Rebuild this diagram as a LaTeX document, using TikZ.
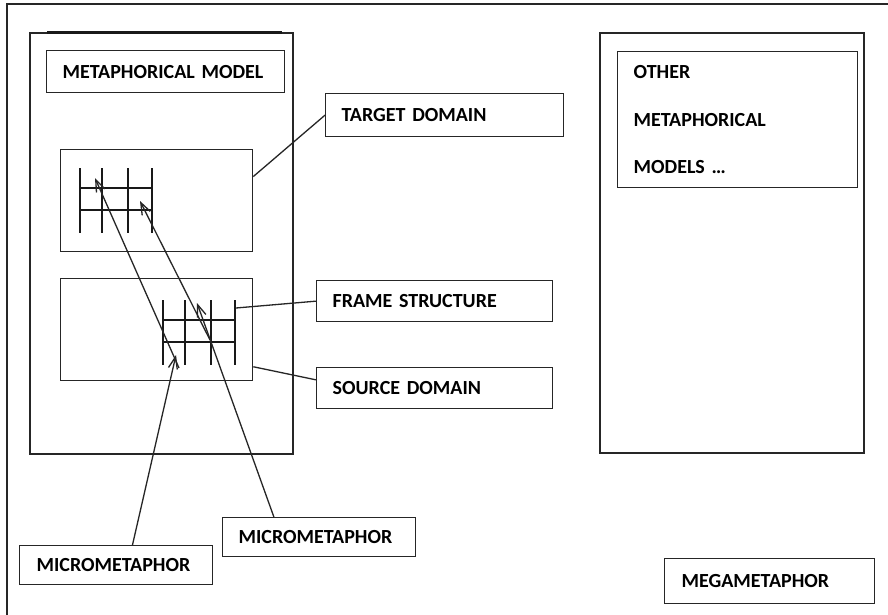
\documentclass[tikz,border=0pt]{standalone}
\usepackage{fontspec}
\setmainfont{Carlito}
\usetikzlibrary{arrows.meta}

\tikzset{
  edge/.style={draw=black!85, line width=1.3pt},
  namebox/.style={edge, rectangle, anchor=north west, inner xsep=16pt, inner ysep=0pt, align=left,
    font=\fontsize{20}{24}\selectfont\bfseries},
  gridline/.style={draw=black!90, line width=2.3pt},
  micro/.style={edge, -{Straight Barb[length=12pt,width=9pt,line width=1.3pt]}}
}

% small frame grid, top left corner given (pixels, y down)
\newcommand{\framegrid}[2]{%
  \foreach \gx in {0,22,48,72}
    \draw[gridline] (#1+\gx,#2) -- (#1+\gx,#2+65);
  \foreach \gy in {20,42}
    \draw[gridline] (#1,#2+\gy) -- (#1+72,#2+\gy);
}

\begin{document}
\begin{tikzpicture}[x=1pt,y=-1pt,line cap=butt,line join=miter]
  \useasboundingbox (0,0) rectangle (888,615);
  \fill[white] (0,0) rectangle (888,615);

  % outer frame (open at right and bottom)
  \draw[edge] (7,615) -- (7,4) -- (888,4);

  % the two large model boxes
  \draw[edge] (30,33) rectangle (293,454);
  \draw[black!90, line width=3pt] (47,33) -- (282,33);
  \draw[edge] (600,33) rectangle (864,453);

  % domains
  \node[edge, rectangle, minimum width=192pt, minimum height=102pt, anchor=north west] (tgt) at (60,149) {};
  \node[edge, rectangle, minimum width=192pt, minimum height=102pt, anchor=north west] (src) at (60,278) {};

  \framegrid{80}{168}
  \framegrid{163}{300}

  % labels
  \node[namebox, minimum width=238pt, minimum height=42pt, text width=206pt] (mmodel) at (46,50) {METAPHORICAL MODEL};
  \node[namebox, minimum width=238pt, minimum height=43pt, text width=206pt, inner xsep=15pt] (tdom) at (325,93) {TARGET DOMAIN};
  \node[namebox, minimum width=236pt, minimum height=41pt, text width=204pt] (fstr) at (316,280) {FRAME STRUCTURE};
  \node[namebox, minimum width=236pt, minimum height=41pt, text width=204pt] (sdom) at (316,367) {SOURCE DOMAIN};
  \node[namebox, minimum width=240pt, minimum height=136pt, text width=208pt,
        font=\fontsize{20}{47.5}\selectfont\bfseries] (other) at (617,51) {OTHER\\METAPHORICAL\\MODELS \dots};
  \node[namebox, minimum width=193pt, minimum height=39pt, text width=159pt, inner xsep=17pt] (microL) at (19,545) {MICROMETAPHOR};
  \node[namebox, minimum width=193pt, minimum height=39pt, text width=161pt] (microR) at (222,517) {MICROMETAPHOR};
  \node[namebox, minimum width=210pt, minimum height=45pt, text width=176pt, inner xsep=17pt] (mega) at (664,558) {MEGAMETAPHOR};

  % points in the grids
  \coordinate (fend) at (236,308);
  \coordinate (t1) at (95,178);
  \coordinate (t2) at (140,201);
  \coordinate (s1) at (176,355);
  \coordinate (s2) at (197,303);
  \coordinate (b1) at (179,368);
  \coordinate (b2) at (210,340);

  % connectors to the labels
  \draw[edge] (tgt.14.6) -- (tdom.west);
  \draw[edge] (fend) -- (fstr.west);
  \draw[edge] (src.-21) -- (sdom.176);

  % micrometaphors
  \draw[micro] (microL.51.5) -- (s1);
  \draw[micro] (microR.156.8) -- (s2);
  \draw[micro] (b1) -- (t1);
  \draw[micro] (b2) -- (t2);
\end{tikzpicture}
\end{document}
